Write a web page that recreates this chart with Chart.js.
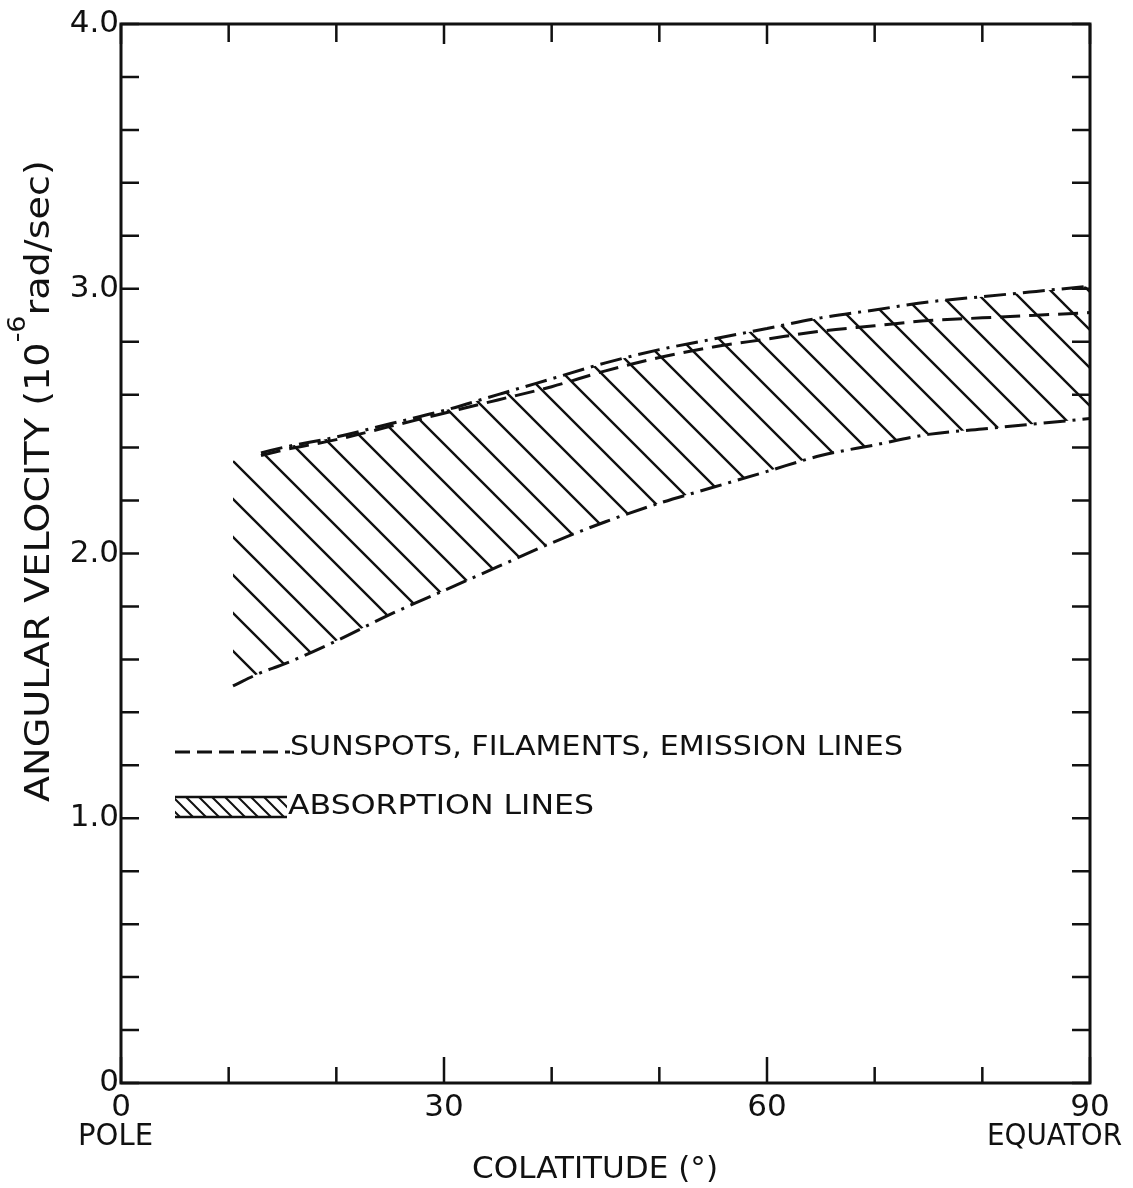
<!DOCTYPE html>
<html>
<head>
<meta charset="utf-8">
<script src="https://cdn.jsdelivr.net/npm/chart.js@4.4.1/dist/chart.umd.min.js"></script>
<style>
  html, body { margin: 0; padding: 0; background: #fff; }
  #wrap { width: 1133px; height: 1188px; }
</style>
</head>
<body>
<div id="wrap"><canvas id="rotationChart" width="1133" height="1188"></canvas></div>
<script>
// Absorption lines band (upper / lower edge), colatitude in degrees
const absColat = [10.4, 13, 15, 20, 25, 30, 35, 40, 45, 50, 55, 60, 65, 70, 75, 80, 85, 90];
const absUpper = [2.35, 2.38, 2.40, 2.44, 2.49, 2.54, 2.60, 2.66, 2.72, 2.77, 2.81, 2.85, 2.89, 2.92, 2.95, 2.97, 2.99, 3.01];
const absLower = [1.50, 1.55, 1.58, 1.67, 1.77, 1.86, 1.95, 2.04, 2.12, 2.19, 2.25, 2.31, 2.37, 2.41, 2.45, 2.47, 2.49, 2.51];

// Sunspots, filaments, emission lines
const spotColat = [13, 15, 20, 25, 30, 35, 40, 45, 50, 55, 60, 65, 70, 75, 80, 85, 90];
const spotVel = [2.37, 2.39, 2.43, 2.48, 2.53, 2.58, 2.63, 2.69, 2.74, 2.78, 2.81, 2.84, 2.86, 2.88, 2.89, 2.90, 2.91];

// tick labels
const xTickLabels = { 0: '0', 30: '30', 60: '60', 90: '90' };
const yTickLabels = { 0: '0', 1: '1.0', 2: '2.0', 3: '3.0', 4: '4.0' };

const INK = '#111';
const FONT = '"DejaVu Sans", "Liberation Sans", sans-serif';

const ctx = document.getElementById('rotationChart').getContext('2d');

// diagonal "\" hatching
function makeHatch(size, width) {
  const c = document.createElement('canvas');
  c.width = size; c.height = size;
  const g = c.getContext('2d');
  g.strokeStyle = INK;
  g.lineWidth = width;
  g.beginPath();
  g.moveTo(-3, -3); g.lineTo(size + 3, size + 3);
  g.moveTo(size - 4, -4); g.lineTo(size + 4, 4);
  g.moveTo(-4, size - 4); g.lineTo(4, size + 4);
  g.stroke();
  return ctx.createPattern(c, 'repeat');
}
const hatch = makeHatch(38, 2.4);
const smallHatch = makeHatch(13, 2);

function fitText(c, text, x, y, width, size) {
  c.font = size + 'px ' + FONT;
  const w = c.measureText(text).width;
  c.save();
  c.translate(x, y);
  c.scale(width / w, 1);
  c.textAlign = 'left';
  c.textBaseline = 'middle';
  c.fillText(text, 0, 0);
  c.restore();
}

const toPoints = (xs, ys) => xs.map((x, i) => ({ x: x, y: ys[i] }));

// frame, inward ticks, legend and axis captions
const decorations = {
  id: 'decorations',
  afterDraw(chart) {
    const c = chart.ctx;
    const a = chart.chartArea;
    const xs = chart.scales.x, ys = chart.scales.y;
    c.save();
    c.strokeStyle = INK;
    c.fillStyle = INK;

    // frame
    c.lineWidth = 3;
    c.strokeRect(a.left, a.top, a.right - a.left, a.bottom - a.top);

    // ticks pointing inward
    c.lineWidth = 2.5;
    c.beginPath();
    ys.ticks.forEach(t => {
      const py = ys.getPixelForValue(t.value);
      c.moveTo(a.left, py); c.lineTo(a.left + 18, py);
      c.moveTo(a.right, py); c.lineTo(a.right - 18, py);
    });
    xs.ticks.forEach(t => {
      const px = xs.getPixelForValue(t.value);
      const major = Math.round(t.value) % 30 === 0;
      c.moveTo(px, a.bottom); c.lineTo(px, a.bottom - (major ? 26 : 16));
      c.moveTo(px, a.top); c.lineTo(px, a.top + (major ? 20 : 18));
    });
    c.stroke();

    // legend
    c.lineWidth = 3;
    c.setLineDash([15, 7]);
    c.beginPath();
    c.moveTo(175, 752); c.lineTo(290, 752);
    c.stroke();
    c.setLineDash([]);
    fitText(c, 'SUNSPOTS, FILAMENTS, EMISSION LINES', 290, 748, 613, 26);

    c.fillStyle = smallHatch;
    c.fillRect(175, 797, 112, 20);
    c.fillStyle = INK;
    c.lineWidth = 2.5;
    c.beginPath();
    c.moveTo(175, 797); c.lineTo(287, 797);
    c.moveTo(175, 817); c.lineTo(287, 817);
    c.stroke();
    fitText(c, 'ABSORPTION LINES', 288, 807, 306, 26);

    // x captions
    fitText(c, 'POLE', 78, 1137, 75, 30);
    fitText(c, 'EQUATOR', 987, 1137, 135, 30);
    fitText(c, 'COLATITUDE (°)', 472, 1170, 246, 30);

    // y title, rotated, with superscript exponent
    const p1 = 'ANGULAR VELOCITY (10', sup = '-6', p2 = 'rad/sec)';
    c.font = '34px ' + FONT;
    const w1 = c.measureText(p1).width, w3 = c.measureText(p2).width;
    c.font = '24px ' + FONT;
    const w2 = c.measureText(sup).width;
    const total = w1 + w2 + w3;
    const k = 642 / total;
    c.save();
    c.translate(49, 802);
    c.rotate(-Math.PI / 2);
    c.scale(k, 1);
    c.textAlign = 'left';
    c.textBaseline = 'alphabetic';
    c.font = '34px ' + FONT;
    c.fillText(p1, 0, 0);
    c.font = '24px ' + FONT;
    c.fillText(sup, w1, -24);
    c.font = '34px ' + FONT;
    c.fillText(p2, w1 + w2, 0);
    c.restore();

    c.restore();
  }
};

new Chart(ctx, {
  type: 'line',
  data: {
    datasets: [
      {
        label: 'Absorption lines (upper)',
        data: toPoints(absColat, absUpper),
        borderColor: INK,
        borderWidth: 3,
        borderDash: [22, 7, 3, 7],
        pointRadius: 0,
        fill: false,
        cubicInterpolationMode: 'monotone',
        segment: {
          borderColor: s => s.p0DataIndex === 0 ? 'rgba(0,0,0,0)' : INK
        }
      },
      {
        label: 'Absorption lines (lower)',
        data: toPoints(absColat, absLower),
        borderColor: INK,
        borderWidth: 3,
        borderDash: [22, 7, 3, 7],
        pointRadius: 0,
        fill: '-1',
        backgroundColor: hatch,
        cubicInterpolationMode: 'monotone'
      },
      {
        label: 'Sunspots, filaments, emission lines',
        data: toPoints(spotColat, spotVel),
        borderColor: INK,
        borderWidth: 3,
        borderDash: [20, 9],
        pointRadius: 0,
        fill: false,
        cubicInterpolationMode: 'monotone'
      }
    ]
  },
  options: {
    responsive: false,
    animation: false,
    devicePixelRatio: 1,
    layout: { padding: { top: 24, right: 43, left: 0, bottom: 0 } },
    scales: {
      x: {
        type: 'linear',
        min: 0,
        max: 90,
        grid: { display: false, drawTicks: false },
        border: { display: false },
        ticks: {
          stepSize: 10,
          autoSkip: false,
          maxRotation: 0,
          padding: 6,
          color: INK,
          font: { family: FONT, size: 31 },
          callback: v => xTickLabels[Math.round(v)] ?? ''
        },
        afterFit: s => { s.height = 105; }
      },
      y: {
        type: 'linear',
        min: 0,
        max: 4,
        grid: { display: false, drawTicks: false },
        border: { display: false },
        ticks: {
          stepSize: 0.2,
          autoSkip: false,
          padding: 2,
          color: INK,
          font: { family: FONT, size: 31 },
          callback: v => Math.abs(v - Math.round(v)) < 1e-6 ? yTickLabels[Math.round(v)] : ''
        },
        afterFit: s => { s.width = 121; }
      }
    },
    plugins: {
      legend: { display: false },
      tooltip: { enabled: false }
    }
  },
  plugins: [decorations]
});
</script>
</body>
</html>
